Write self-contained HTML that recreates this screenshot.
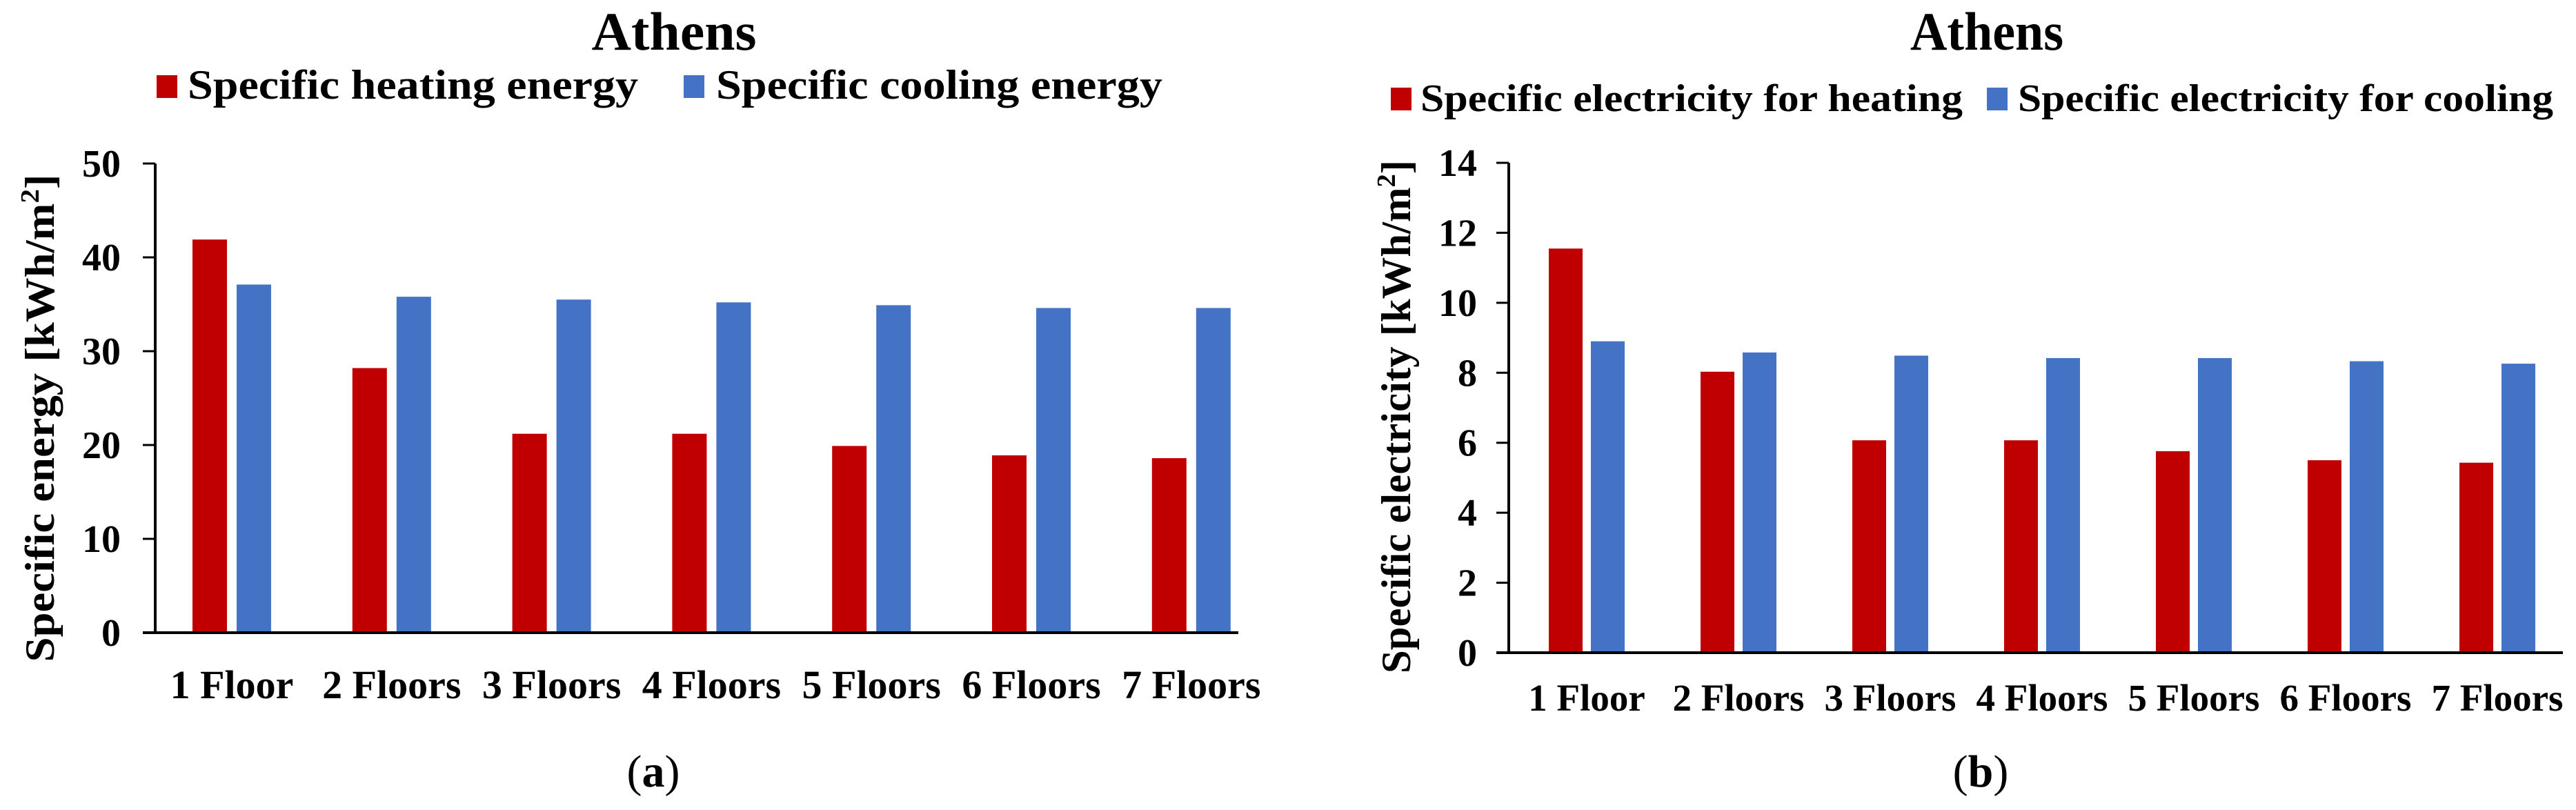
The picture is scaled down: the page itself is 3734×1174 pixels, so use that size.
<!DOCTYPE html>
<html>
<head>
<meta charset="utf-8">
<style>
html,body{margin:0;padding:0;background:#fff;}
svg{display:block;}
text{font-family:"Liberation Serif",serif;font-weight:bold;fill:#000;}
</style>
</head>
<body>
<svg id="fig" width="3734" height="1174" viewBox="0 0 3734 1174" xmlns="http://www.w3.org/2000/svg">
  <g id="chartA"></g>
  <g id="chartB"></g>
</svg>
<script>
const categories = ["1 Floor","2 Floors","3 Floors","4 Floors","5 Floors","6 Floors","7 Floors"];
const heatingEnergy = [41.9, 28.2, 21.2, 21.2, 19.9, 18.9, 18.6];
const coolingEnergy = [37.1, 35.8, 35.5, 35.2, 34.9, 34.6, 34.6];
const heatingElec = [11.55, 8.03, 6.07, 6.07, 5.76, 5.5, 5.43];
const coolingElec = [8.9, 8.58, 8.49, 8.42, 8.42, 8.33, 8.26];
const ticksA = [0,10,20,30,40,50];
const ticksB = [0,2,4,6,8,10,12,14];

const NS = "http://www.w3.org/2000/svg";
function mk(parent, tag, attrs, txt){
  const e = document.createElementNS(NS, tag);
  for (const k in attrs) e.setAttribute(k, attrs[k]);
  if (txt !== undefined) e.textContent = txt;
  parent.appendChild(e);
  return e;
}

function drawChart(g, cfg){
  const yScale = v => cfg.y0 - (v - cfg.vmin) / (cfg.vmax - cfg.vmin) * (cfg.y0 - cfg.yTop);
  const xCenter = i => cfg.c0 + i * cfg.step;

  const t = mk(g, "text", {x: cfg.titleX, y: cfg.titleY, "text-anchor": "middle", "font-size": 78, textLength: cfg.titleW, lengthAdjust: "spacingAndGlyphs"}, "Athens");
  
  

  const l1 = mk(g, "rect", {x: cfg.lg[0], y: cfg.lgY - 16, width: 30, height: 33, fill: "#C00000"});
  
  
  const lt1 = mk(g, "text", {x: cfg.lg[1], y: cfg.lgY + 18, "font-size": cfg.lgFont, textLength: cfg.lg[2], lengthAdjust: "spacingAndGlyphs"}, cfg.lgText[0]);
  
  
  const l2 = mk(g, "rect", {x: cfg.lg[3], y: cfg.lgY - 16, width: 30, height: 33, fill: "#4472C4"});
  
  
  const lt2 = mk(g, "text", {x: cfg.lg[4], y: cfg.lgY + 18, "font-size": cfg.lgFont, textLength: cfg.lg[5], lengthAdjust: "spacingAndGlyphs"}, cfg.lgText[1]);
  
  

  cfg.red.forEach((v, i) => {
    const r = mk(g, "rect", {x: xCenter(i) - cfg.off - cfg.bw/2, y: yScale(v), width: cfg.bw, height: yScale(cfg.vmin) - yScale(v), fill: "#C00000"});
    
    
  });
  cfg.blue.forEach((v, i) => {
    const r = mk(g, "rect", {x: xCenter(i) + cfg.off - cfg.bw/2, y: yScale(v), width: cfg.bw, height: yScale(cfg.vmin) - yScale(v), fill: "#4472C4"});
    
    
  });

  const ya = mk(g, "line", {x1: cfg.ax, y1: cfg.yTop, x2: cfg.ax, y2: cfg.y0 + 2, stroke: "#000", "stroke-width": 4});
  
  
  const xa = mk(g, "line", {x1: cfg.ax - 18, y1: cfg.y0, x2: cfg.axEnd, y2: cfg.y0, stroke: "#000", "stroke-width": 4});
  
  

  cfg.ticks.forEach(v => {
    const tk = mk(g, "line", {x1: cfg.ax - 18, y1: yScale(v), x2: cfg.ax, y2: yScale(v), stroke: "#000", "stroke-width": 3});
    
    
    const tl = mk(g, "text", {x: cfg.tickR, y: yScale(v) + 19, "text-anchor": "end", "font-size": 56}, String(v));
    
    
  });

  categories.forEach((c, i) => {
    const xl = mk(g, "text", {x: xCenter(i), y: cfg.xlY, "text-anchor": "middle", "font-size": cfg.xlFont}, c);
    
    
  });

  const yt = mk(g, "text", {x: 0, y: 0, "text-anchor": "middle", "font-size": 60, transform: "translate(" + cfg.ytX + "," + cfg.ytY + ") rotate(-90)", textLength: cfg.ytW, lengthAdjust: "spacingAndGlyphs"});
  
  
  mk(yt, "tspan", {}, cfg.ytText + " [kWh/m");
  mk(yt, "tspan", {dy: -22, "font-size": 38}, "2");
  mk(yt, "tspan", {dy: 22}, "]");

  const pl = mk(g, "text", {x: cfg.plX, y: 1140, "text-anchor": "middle", "font-size": 66, style: "font-weight:normal"}, "");
  
  
  mk(pl, "tspan", {}, "(");
  mk(pl, "tspan", {style: "font-weight:bold"}, cfg.panel);
  mk(pl, "tspan", {}, ")");
}

drawChart(document.getElementById("chartA"), {
  red: heatingEnergy, blue: coolingEnergy, ticks: ticksA, vmin: 0, vmax: 50,
  yTop: 237, y0: 917, ax: 225, axEnd: 1795, c0: 336, step: 231.8, bw: 50, off: 32,
  tickR: 175, xlY: 1012, xlFont: 58,
  titleX: 977, titleY: 72, titleW: 239,
  lgY: 125, lgFont: 60, lg: [227, 272, 653, 991, 1038, 647],
  lgText: ["Specific heating energy", "Specific cooling energy"],
  ytX: 78, ytY: 606, ytW: 707, ytText: "Specific energy",
  plX: 947, panel: "a"
});
drawChart(document.getElementById("chartB"), {
  red: heatingElec, blue: coolingElec, ticks: ticksB, vmin: 0, vmax: 14,
  yTop: 236, y0: 946, ax: 2187, axEnd: 3715, c0: 2300, step: 220, bw: 49, off: 30.5,
  tickR: 2141, xlY: 1030, xlFont: 55,
  titleX: 2880, titleY: 72, titleW: 222,
  lgY: 143, lgFont: 56, lg: [2016, 2059, 786, 2880, 2925, 776],
  lgText: ["Specific electricity for heating", "Specific electricity for cooling"],
  ytX: 2044, ytY: 604, ytW: 744, ytText: "Specific electricity",
  plX: 2871, panel: "b"
});
</script>
</body>
</html>
